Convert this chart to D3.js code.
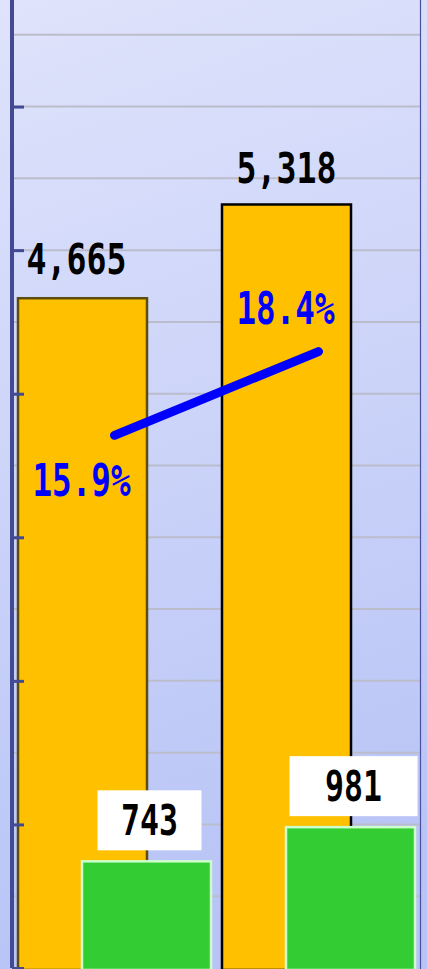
<!DOCTYPE html>
<html>
<head>
<meta charset="utf-8">
<script src="https://cdn.jsdelivr.net/npm/d3@7"></script>
<style>
  body { margin: 0; padding: 0; background: #fff; }
  svg { display: block; }
</style>
</head>
<body>
<script>

let width = 427;
let height = 969;

// chart values
let categories = ["A", "B"];
let totals = [4665, 5318];
let subsets = [743, 981];
let shares = [15.9, 18.4];
let totalLabels = ["4,665", "5,318"];
let subsetLabels = ["743", "981"];
let shareLabels = ["15.9%", "18.4%"];
let yTicks = [0, 1000, 2000, 3000, 4000, 5000, 6000];
let gridValues = [500, 1000, 1500, 2000, 2500, 3000, 3500, 4000, 4500, 5000, 5500, 6000, 6500];

let xScale = d3.scaleBand()
	.domain(categories)
	.range([18, 426])
	.padding(0);

// offset of each series inside a category slot (bars overlap)
let offset = d3.scaleLinear().domain([0, 1]).range([0, 64]);
let barWidth = 129;

let yScale = d3.scaleLinear()
	.domain([0, 7000])
	.range([968, -37]);

let y2Scale = d3.scaleLinear()
	.domain([0, 30])
	.range([968, -37]);

let svg = d3.select("body")
	.append("svg")
		.attr("width", width)
		.attr("height", height);

// background gradient
let defs = svg.append("defs");
let grad = defs.append("linearGradient")
	.attr("id", "bg")
	.attr("x1", "0").attr("y1", "0")
	.attr("x2", "0.15").attr("y2", "1");
grad.append("stop").attr("offset", "0%").attr("stop-color", "#dfe3fb");
grad.append("stop").attr("offset", "100%").attr("stop-color", "#b8c4f6");

svg.append("rect")
	.attr("width", width)
	.attr("height", height)
	.attr("fill", "url(#bg)");

// gridlines
svg.append("g")
	.selectAll("line")
	.data(gridValues)
	.join("line")
		.attr("x1", 14)
		.attr("x2", 420)
		.attr("y1", d => yScale(d))
		.attr("y2", d => yScale(d))
		.style("stroke", "#bcbdcc")
		.style("stroke-width", 2);

// right border
svg.append("line")
	.attr("x1", 420.5).attr("x2", 420.5)
	.attr("y1", 0).attr("y2", height)
	.style("stroke", "#4a4fa0")
	.style("stroke-width", 1.2);

// total bars
svg.append("g")
	.selectAll("rect")
	.data(totals)
	.join("rect")
		.attr("x", (d, i) => xScale(categories[i]) + offset(0))
		.attr("y", d => yScale(d))
		.attr("width", barWidth)
		.attr("height", d => yScale(0) - yScale(d) + 2)
		.style("fill", "#ffc000")
		.style("stroke", (d, i) => i === 0 ? "#5e4c0e" : "#000")
		.style("stroke-width", 2.5);

// subset bars
svg.append("g")
	.selectAll("rect")
	.data(subsets)
	.join("rect")
		.attr("x", (d, i) => xScale(categories[i]) + offset(1))
		.attr("y", d => yScale(d))
		.attr("width", barWidth)
		.attr("height", d => yScale(0) - yScale(d) + 2)
		.style("fill", "#33cc33")
		.style("stroke", "#ccffcc")
		.style("stroke-width", 2.5);

// y axis
let yAxis = d3.axisRight(yScale)
	.tickValues(yTicks)
	.tickSize(12)
	.tickFormat("");

let axisG = svg.append("g")
	.attr("transform", "translate(12,0)")
	.call(yAxis);
axisG.select(".domain").remove();
axisG.selectAll(".tick line")
	.style("stroke", "#414a92")
	.style("stroke-width", 3);
svg.append("line")
	.attr("x1", 12).attr("x2", 12)
	.attr("y1", 0).attr("y2", yScale(0))
	.style("stroke", "#414a92")
	.style("stroke-width", 4);

// share line
let center = i => xScale(categories[i]) + (offset(1) + barWidth) / 2;
let valueline = d3.line()
	.x((d, i) => center(i))
	.y(d => y2Scale(d));

svg.append("path")
	.datum(shares)
	.attr("d", valueline)
	.style("fill", "none")
	.style("stroke", "#0000ff")
	.style("stroke-width", 9)
	.style("stroke-linecap", "round");

let font = "'DejaVu Sans Mono', monospace";

// total labels
svg.append("g")
	.selectAll("text")
	.data(totals)
	.join("text")
		.attr("x", (d, i) => xScale(categories[i]) + barWidth / 2 - (i === 0 ? 6 : 0))
		.attr("y", (d, i) => yScale(d) - (i === 0 ? 24 : 21))
		.attr("text-anchor", "middle")
		.attr("textLength", 100)
		.attr("lengthAdjust", "spacingAndGlyphs")
		.style("font-family", font)
		.style("font-weight", "bold")
		.style("font-size", "43px")
		.style("fill", "#000")
		.text((d, i) => totalLabels[i]);

// share labels (first below the point, second above)
svg.append("g")
	.selectAll("text")
	.data(shares)
	.join("text")
		.attr("x", (d, i) => xScale(categories[i]) + barWidth / 2 - 1)
		.attr("y", (d, i) => y2Scale(d) + (i === 0 ? 61 : -28))
		.attr("text-anchor", "middle")
		.attr("textLength", 98)
		.attr("lengthAdjust", "spacingAndGlyphs")
		.style("font-family", font)
		.style("font-weight", "bold")
		.style("font-size", "44px")
		.style("fill", "#0000ff")
		.text((d, i) => shareLabels[i]);

// subset labels with white boxes
let boxW = [104, 128];
let subG = svg.append("g")
	.selectAll("g")
	.data(subsets)
	.join("g")
		.attr("transform", (d, i) => "translate(" + (xScale(categories[i]) + offset(1) + barWidth / 2 + 3) + "," + (yScale(d) - 41) + ")");

subG.append("rect")
	.attr("x", (d, i) => -boxW[i] / 2)
	.attr("y", -30)
	.attr("width", (d, i) => boxW[i])
	.attr("height", 60)
	.style("fill", "#fff");

subG.append("text")
	.attr("y", 15)
	.attr("text-anchor", "middle")
	.attr("textLength", 57)
	.attr("lengthAdjust", "spacingAndGlyphs")
	.style("font-family", font)
	.style("font-weight", "bold")
	.style("font-size", "43px")
	.style("fill", "#000")
	.text((d, i) => subsetLabels[i]);

</script>
</body>
</html>
